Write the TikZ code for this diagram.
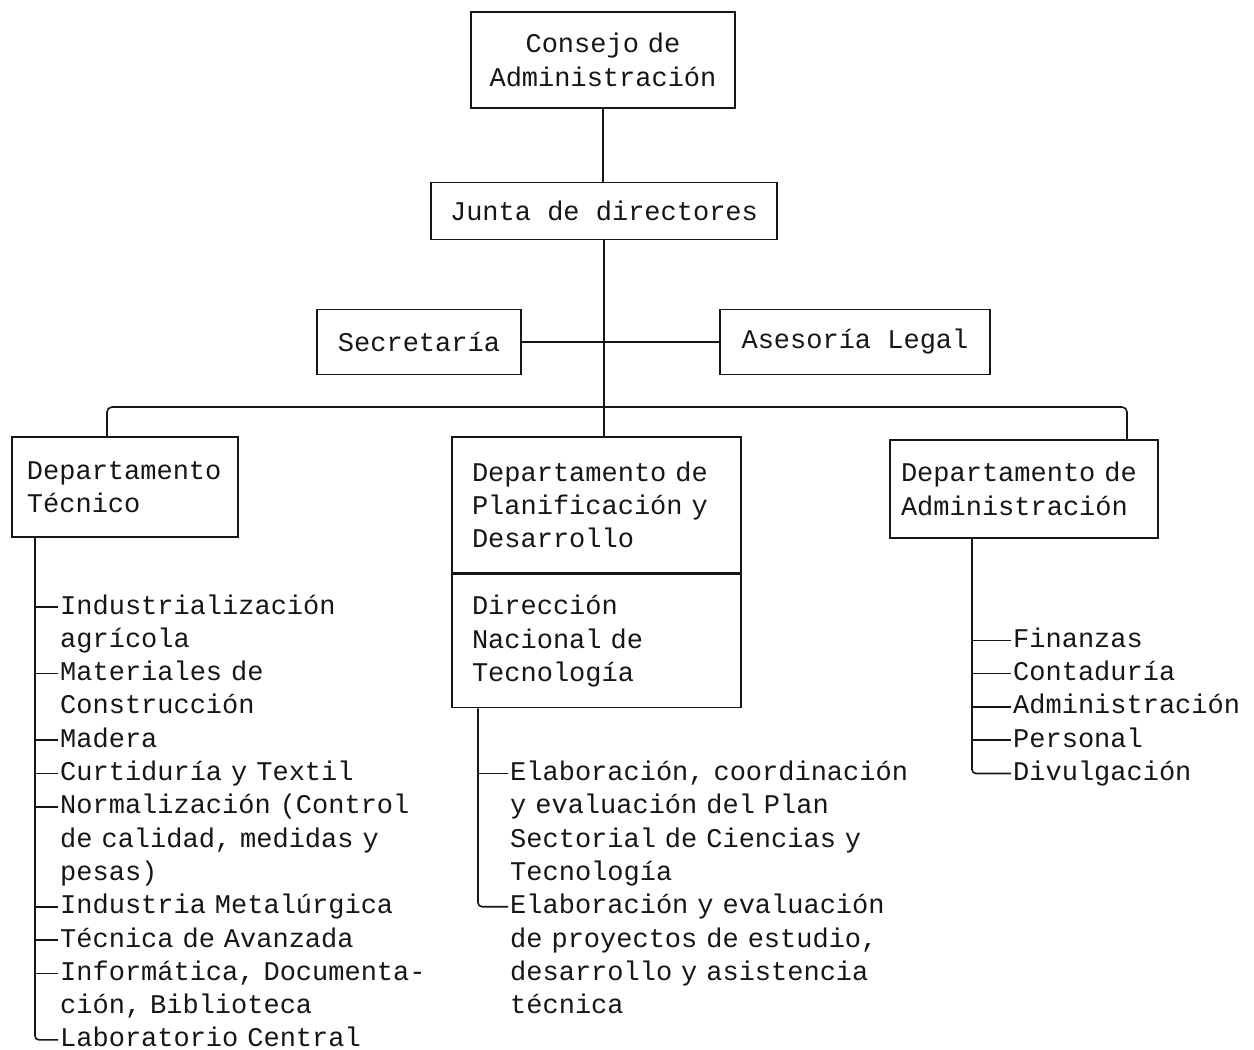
\documentclass[tikz,border=0pt]{standalone}
\usepackage{fontspec}
\usepackage{tikz}
\usetikzlibrary{positioning}
\newfontfamily\typewfont{Liberation Mono}
\definecolor{inkblack}{RGB}{22,22,22}

\begin{document}
\begin{tikzpicture}[x=1pt,y=-1pt,
  every node/.style={font=\typewfont\fontsize{27}{33.3}\selectfont,color=inkblack},
  orgbox/.style={draw=inkblack,line width=1.6pt,inner sep=0pt,align=left},
  unitline/.style={draw=inkblack,line width=1.6pt},
  subitem/.style={anchor=base west,inner sep=0pt,text width=440pt,align=left}]
\useasboundingbox (0,0) rectangle (1254,1050);
\node[orgbox,align=center,minimum width=264pt,minimum height=96pt,text width=240pt]
  (consejo) at (603,60) {Consejo de\\Administración};
\node[orgbox,align=center,minimum width=346pt,minimum height=57pt]
  (junta) at (604,211) {Junta de directores};
\node[orgbox,align=center,minimum width=204pt,minimum height=65pt]
  (secre) at (419,342) {Secretaría};
\node[orgbox,align=center,minimum width=270pt,minimum height=65pt]
  (asesor) at (855,342) {Asesoría Legal};
\node[orgbox,minimum width=226pt,minimum height=100pt,text width=196pt]
  (dtec) at (125,487) {Departamento\\Técnico};
\node[orgbox,minimum width=289pt,minimum height=136pt,text width=249pt]
  (dplan) at (596.5,505) {Departamento de\\Planificación y\\Desarrollo};
\node[orgbox,anchor=north,minimum width=289pt,minimum height=133pt,text width=249pt]
  (dnac) at (dplan.south) {Dirección\\Nacional de\\Tecnología};
\node[orgbox,minimum width=268pt,minimum height=98pt,text width=246pt]
  (dadm) at (1024,489) {Departamento de\\Administración};
\draw[unitline](consejo.south)--(consejo.south|-junta.north);
\draw[unitline](junta.south)--(junta.south|-dplan.north);
\draw[unitline](secre.east)--(asesor.west);
\coordinate (busL) at (107,407);
\coordinate (busR) at (1127,407);
\draw[unitline,rounded corners=5pt](dtec.north-|busL)--(busL)--(busR)--(dadm.north-|busR);
\node[subitem] (tec1) at (60,614)    {Industrialización\\agrícola};
\node[subitem] (tec2) at (60,680.6)  {Materiales de\\Construcción};
\node[subitem] (tec3) at (60,747.2)  {Madera};
\node[subitem] (tec4) at (60,780.5)  {Curtiduría y Textil};
\node[subitem] (tec5) at (60,813.8)  {Normalización (Control\\de calidad, medidas y\\pesas)};
\node[subitem] (tec6) at (60,913.7)  {Industria Metalúrgica};
\node[subitem] (tec7) at (60,947)    {Técnica de Avanzada};
\node[subitem] (tec8) at (60,980.3)  {Informática, Documenta-\\ción, Biblioteca};
\node[subitem] (tec9) at (60,1046.9) {Laboratorio Central};
\coordinate (tecspine) at (35,0);
\draw[unitline,rounded corners=4pt](dtec.south-|tecspine)|-([yshift=7pt,xshift=-2pt]tec9.base west);
\foreach \i in {1,...,8}{
  \draw[unitline]([yshift=7pt]tec\i.base west-|tecspine)--([yshift=7pt,xshift=-2pt]tec\i.base west);}
\node[subitem] (plan1) at (510,780.5) {Elaboración, coordinación\\y evaluación del Plan\\Sectorial de Ciencias y\\Tecnología};
\node[subitem] (plan2) at (510,913.7) {Elaboración y evaluación\\de proyectos de estudio,\\desarrollo y asistencia\\técnica};
\coordinate (planspine) at (478,0);
\draw[unitline,rounded corners=4pt](dnac.south-|planspine)|-([yshift=7pt,xshift=-2pt]plan2.base west);
\draw[unitline]([yshift=7pt]plan1.base west-|planspine)--([yshift=7pt,xshift=-2pt]plan1.base west);
\node[subitem] (adm1) at (1013,647.3) {Finanzas};
\node[subitem] (adm2) at (1013,680.6) {Contaduría};
\node[subitem] (adm3) at (1013,713.9) {Administración};
\node[subitem] (adm4) at (1013,747.2) {Personal};
\node[subitem] (adm5) at (1013,780.5) {Divulgación};
\coordinate (admspine) at (972,0);
\draw[unitline,rounded corners=4pt](dadm.south-|admspine)|-([yshift=7pt,xshift=-2pt]adm5.base west);
\foreach \i in {1,...,4}{
  \draw[unitline]([yshift=7pt]adm\i.base west-|admspine)--([yshift=7pt,xshift=-2pt]adm\i.base west);}
\end{tikzpicture}
\end{document}
